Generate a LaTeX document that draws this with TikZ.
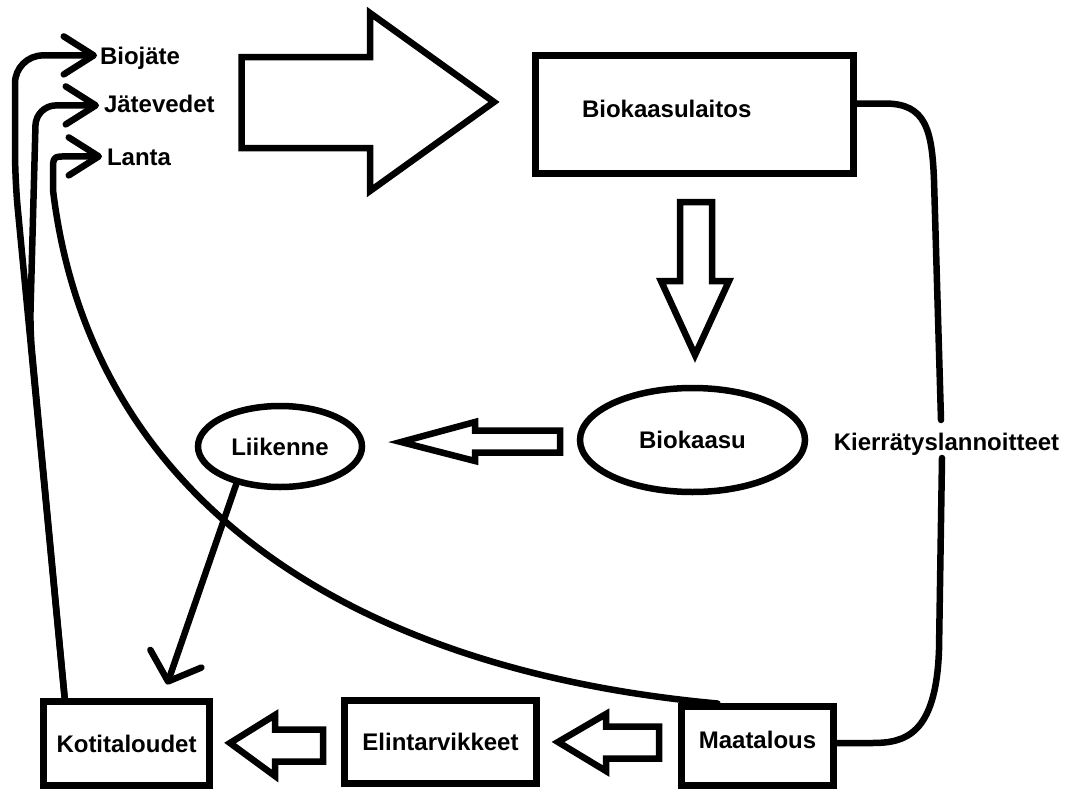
\documentclass[tikz,border=0pt]{standalone}
\usepackage{fontspec}
\setmainfont{Liberation Sans}
\usetikzlibrary{arrows.meta,shapes.geometric}
\begin{document}
\begin{tikzpicture}[x=1pt,y=-1pt,
  every node/.style={font=\bfseries\fontsize{24}{28}\selectfont, inner sep=0pt, outer sep=0pt, text height=17.2pt, text depth=0pt},
  box/.style={draw, line width=7pt, rectangle},
  oval/.style={draw, line width=6.5pt, ellipse},
  conn/.style={line width=6.5pt, line cap=round, line join=round},
  barb/.style={-{Straight Barb[length=30pt,width=38pt,round]}},
  hollow/.style={draw, line width=6.5pt, line join=miter, fill=white}
]
\fill[white] (0,0) rectangle (1071,790);
\useasboundingbox (0,0) rectangle (1071,790);

% nodes
\node[box, minimum width=166pt, minimum height=84pt] (koti) at (126.5,743.5) {Kotitaloudet};
\node[box, minimum width=192pt, minimum height=83pt] (elin) at (440.5,742) {Elintarvikkeet};
\node[box, minimum width=152pt, minimum height=79pt, text depth=13.2pt] (maat) at (757.5,746) {Maatalous};
\node[box, minimum width=318pt, minimum height=118pt, text width=225pt, align=left, text depth=12.2pt] (laitos) at (694.5,114.5) {Biokaasulaitos};
\node[oval, minimum width=225pt, minimum height=104pt] (gas) at (692.5,440) {Biokaasu};
\node[oval, minimum width=164pt, minimum height=81pt] (liik) at (280,446.5) {Liikenne};

\node[anchor=base west] (bio) at (100,64) {Biojäte};
\node[anchor=base west] (jate) at (104,112) {Jätevedet};
\node[anchor=base west] (lanta) at (107,165) {Lanta};
\node[anchor=base] (kier) at (946.5,450) {Kierrätyslannoitteet};

\coordinate (kTop) at (941,420);
\coordinate (kBot) at (942,458);

% hollow block arrows
\draw[hollow] (241.5,57) -- (370,57) -- (370,13) -- (494,102) -- (370,191) -- (370,148) -- (241.5,148) -- cycle;
\draw[hollow] (680,202) -- (712,202) -- (712,281) -- (729,281) -- (695,355) -- (661,281) -- (680,281) -- cycle;
\draw[hollow] (560,430.5) -- (475,430.5) -- (475,422) -- (401,442) -- (475,461) -- (475,452.5) -- (560,452.5) -- cycle;
\draw[hollow] (323,729.5) -- (275,729.5) -- (275,715) -- (230,743) -- (275,776) -- (275,761.5) -- (323,761.5) -- cycle;
\draw[hollow] (659,726.5) -- (606,726.5) -- (606,714) -- (558,742) -- (606,771) -- (606,758.5) -- (659,758.5) -- cycle;

% connectors
\draw[conn, barb, rounded corners=28pt] ([xshift=-61.5pt]koti.north) -- (15,180) -- (15,55.4) -- ([xshift=-3pt]bio.west);
\draw[conn, barb, rounded corners=20pt] ([xshift=-61.5pt]koti.north) -- (30,330) -- (36,105.4) -- ([shift={(-5,2)}]jate.west);
\draw[conn, barb] ([shift={(-40,-3)}]maat.north) .. controls (350,670) and (90,500) .. (53,190) -- (53,172) .. controls (53,156.4) .. (68,156.4) -- ([xshift=-5pt]lanta.west);
\draw[conn, -{Straight Barb[length=24pt,width=54pt,round]}] (liik.-141) -- ([shift={(40.5,-17)}]koti.north);
\draw[conn] ([yshift=11pt]laitos.east) -- (885,103.5) .. controls (926,103.5) and (932,130) .. (934,180) -- (kTop);
\draw[conn] (kBot) -- (939,650) .. controls (936,735) and (905,743) .. (872,743) -- ([yshift=3pt]maat.east);
\end{tikzpicture}
\end{document}
